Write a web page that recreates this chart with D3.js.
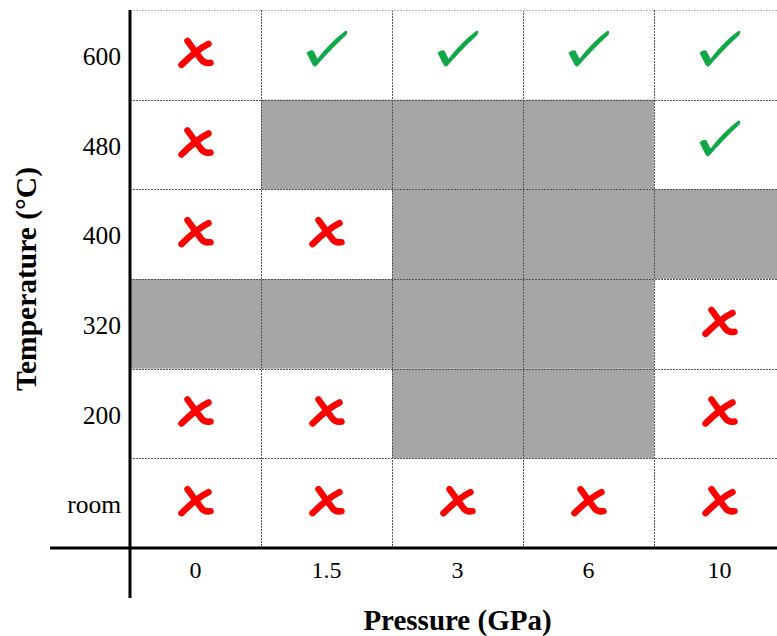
<!DOCTYPE html>
<html>
<head>
<meta charset="utf-8">
<script src="https://cdn.jsdelivr.net/npm/d3@7"></script>
<style>
  html, body { margin: 0; padding: 0; background: #fff; overflow: hidden; }
  svg { display: block; }
</style>
</head>
<body>
<svg id="chart" width="777" height="636"></svg>
<script>
// Pressure levels (columns) and temperatures (rows, top to bottom)
const pressures = ["0", "1.5", "3", "6", "10"];
const temperatures = ["600", "480", "400", "320", "200", "room"];

// Outcome at each pressure for one temperature:
// "pass" = check mark, "fail" = cross, "none" = not run (shaded cell)
const at600  = ["fail", "pass", "pass", "pass", "pass"];
const at480  = ["fail", "none", "none", "none", "pass"];
const at400  = ["fail", "fail", "none", "none", "none"];
const at320  = ["none", "none", "none", "none", "fail"];
const at200  = ["fail", "fail", "none", "none", "fail"];
const atRoom = ["fail", "fail", "fail", "fail", "fail"];

const outcomeRows = [at600, at480, at400, at320, at200, atRoom];

const cells = [];
temperatures.forEach((t, i) => {
  pressures.forEach((p, j) => {
    cells.push({ t, p, outcome: outcomeRows[i][j] });
  });
});

const svg = d3.select("#chart");

const gridLeft = 130, gridTop = 10, gridBottom = 548, colW = 131;
const x = d3.scaleBand().domain(pressures).range([gridLeft, gridLeft + colW * pressures.length]).padding(0);
const y = d3.scaleBand().domain(temperatures).range([gridTop, gridBottom]).padding(0);

// shaded (untested) cells
svg.append("g")
  .selectAll("rect")
  .data(cells.filter(d => d.outcome === "none"))
  .join("rect")
  .attr("x", d => x(d.p))
  .attr("y", d => y(d.t))
  .attr("width", x.bandwidth())
  .attr("height", y.bandwidth())
  .attr("fill", "#a6a6a6");

// dotted grid
const grid = svg.append("g").attr("stroke", "#555").attr("stroke-width", 1)
  .attr("stroke-dasharray", "2,1");
grid.selectAll("line.v")
  .data(pressures.slice(1))
  .join("line")
  .attr("class", "v")
  .attr("x1", d => Math.round(x(d)) + 0.5)
  .attr("x2", d => Math.round(x(d)) + 0.5)
  .attr("y1", gridTop)
  .attr("y2", gridBottom);
grid.selectAll("line.h")
  .data(temperatures.slice(1))
  .join("line")
  .attr("class", "h")
  .attr("x1", gridLeft)
  .attr("x2", x.range()[1])
  .attr("y1", d => Math.round(y(d)) + 0.5)
  .attr("y2", d => Math.round(y(d)) + 0.5);

// top edge of the grid
svg.append("line")
  .attr("x1", gridLeft).attr("x2", x.range()[1])
  .attr("y1", gridTop + 0.5).attr("y2", gridTop + 0.5)
  .attr("stroke", "#bbb").attr("stroke-width", 1)
  .attr("stroke-dasharray", "2,1");

// cross and check glyphs
const crossA = "M -8,-12 Q -1,-2 6,7 Q 9,11 15,10";
const crossB = "M 13,-9 Q 1,-3 -14,12";
const checkPath = "M -20,3 Q -16,-1 -13,1 L -9,9 Q 4,-8 19,-19 Q 22,-19 20,-15 Q 3,1 -10,16 Q -12,18 -14,15 Z";

const marks = svg.append("g");
const fails = marks.selectAll("g.fail")
  .data(cells.filter(d => d.outcome === "fail"))
  .join("g")
  .attr("class", "fail")
  .attr("transform", d => `translate(${x(d.p) + x.bandwidth() / 2},${y(d.t) + y.bandwidth() / 2 - 2})`);
fails.append("path").attr("d", crossA)
  .attr("fill", "none").attr("stroke", "#ff0000").attr("stroke-width", 6.5)
  .attr("stroke-linecap", "round");
fails.append("path").attr("d", crossB)
  .attr("fill", "none").attr("stroke", "#ff0000").attr("stroke-width", 6.5)
  .attr("stroke-linecap", "round");

marks.selectAll("path.pass")
  .data(cells.filter(d => d.outcome === "pass"))
  .join("path")
  .attr("class", "pass")
  .attr("transform", d => `translate(${x(d.p) + x.bandwidth() / 2},${y(d.t) + y.bandwidth() / 2 - 5})`)
  .attr("d", checkPath)
  .attr("fill", "#12a84a");

// tick labels
const tickFont = "'Liberation Serif', 'Times New Roman', serif";
const xAxis = svg.append("g")
  .attr("transform", `translate(0,${gridBottom})`)
  .call(d3.axisBottom(x).tickSize(0).tickPadding(13));
xAxis.select(".domain").remove();
xAxis.selectAll("text")
  .attr("font-family", tickFont).attr("font-size", 24).attr("fill", "#000");

const yAxis = svg.append("g")
  .attr("transform", `translate(${gridLeft},0)`)
  .call(d3.axisLeft(y).tickSize(0).tickPadding(9));
yAxis.select(".domain").remove();
yAxis.selectAll("text")
  .attr("dy", "0.4em")
  .attr("font-family", tickFont).attr("font-size", 25.5).attr("fill", "#000");

// axis lines
svg.append("line")
  .attr("x1", 50).attr("x2", 777)
  .attr("y1", gridBottom).attr("y2", gridBottom)
  .attr("stroke", "#000").attr("stroke-width", 3);
svg.append("line")
  .attr("x1", gridLeft).attr("x2", gridLeft)
  .attr("y1", gridTop).attr("y2", 598)
  .attr("stroke", "#000").attr("stroke-width", 3);

// axis titles
svg.append("text")
  .attr("x", (gridLeft + x.range()[1]) / 2)
  .attr("y", 630)
  .attr("text-anchor", "middle")
  .attr("font-family", tickFont).attr("font-weight", "bold").attr("font-size", 29)
  .text("Pressure (GPa)");

svg.append("text")
  .attr("transform", `translate(36,${(gridTop + gridBottom) / 2}) rotate(-90)`)
  .attr("text-anchor", "middle")
  .attr("font-family", tickFont).attr("font-weight", "bold").attr("font-size", 29.5)
  .text("Temperature (°C)");
</script>
</body>
</html>
